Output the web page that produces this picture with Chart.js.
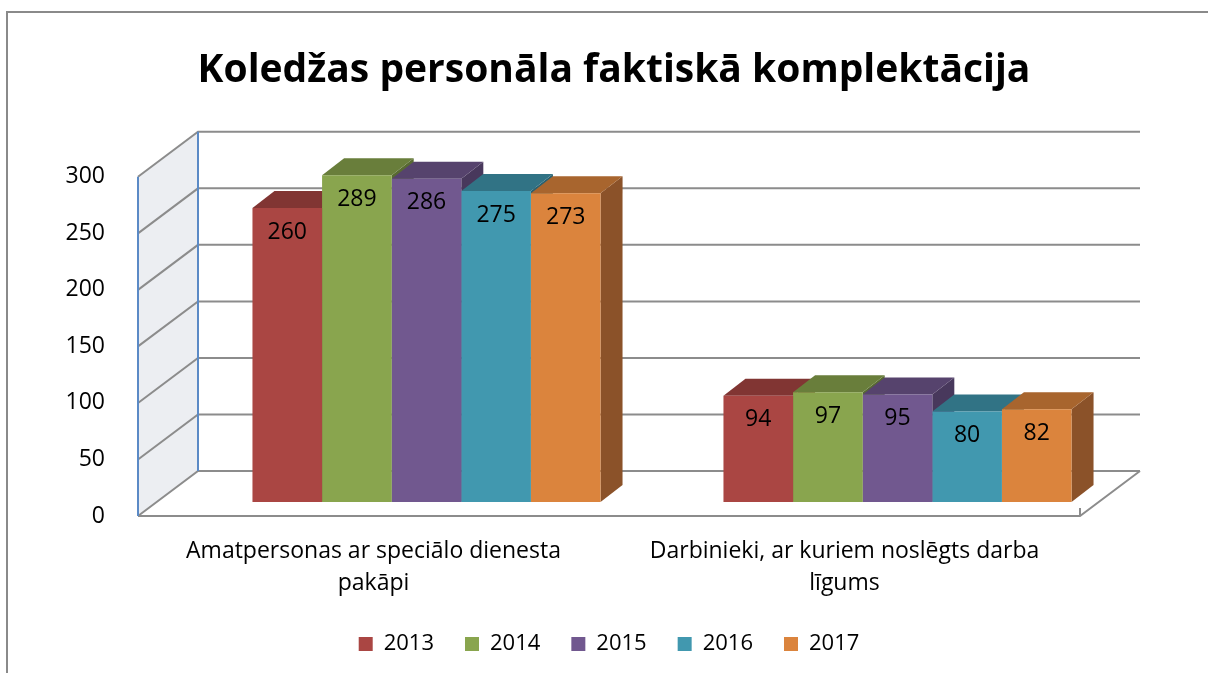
<!DOCTYPE html>
<html>
<head>
<meta charset="utf-8">
<script src="https://cdn.jsdelivr.net/npm/chart.js@4"></script>
<style>
  html, body { margin: 0; padding: 0; background: #fff; overflow: hidden; }
  #frame { position: absolute; left: 6px; top: 11px; width: 1300px; height: 800px;
           border-left: 2px solid #8a8a8a; border-top: 2px solid #8a8a8a; }
  #c { position: absolute; left: 0; top: 0; }
</style>
</head>
<body>
<div id="frame"></div>
<canvas id="c" width="1228" height="673"></canvas>
<script>
const categories = [['Amatpersonas ar speciālo dienesta', 'pakāpi'], ['Darbinieki, ar kuriem noslēgts darba', 'līgums']];
const years = ['2013', '2014', '2015', '2016', '2017'];
const v2013 = [260, 94];
const v2014 = [289, 97];
const v2015 = [286, 95];
const v2016 = [275, 80];
const v2017 = [273, 82];
const yTicks = [0, 50, 100, 150, 200, 250, 300];

const seriesValues = [v2013, v2014, v2015, v2016, v2017];
const frontColors = ['#AA4643', '#89A54E', '#71588F', '#4198AF', '#DB843D'];
const topColors   = ['#813533', '#697E3B', '#56436D', '#317385', '#A8652E'];
const sideColors  = ['#6E2C2B', '#586A32', '#48385C', '#296170', '#8B5229'];

const FONT = '"Open Sans", "Noto Sans", sans-serif';
const WALL_DX = 60, WALL_DY = -45;
const BAR_DX = 53, BAR_DY = -14;
const DEPTH_DX = 22, DEPTH_DY = -17;

const threeD = {
  id: 'threeD',
  beforeDatasetsDraw(chart) {
    const ctx = chart.ctx, ys = chart.scales.y, ca = chart.chartArea;
    const L = ca.left, R = ca.right;
    const yMin = ys.getPixelForValue(yTicks[0]);
    const yMax = ys.getPixelForValue(yTicks[yTicks.length - 1]);
    ctx.save();
    ctx.fillStyle = '#ECEEF2';
    ctx.beginPath();
    ctx.moveTo(L, yMin); ctx.lineTo(L + WALL_DX, yMin + WALL_DY);
    ctx.lineTo(L + WALL_DX, yMax + WALL_DY); ctx.lineTo(L, yMax);
    ctx.closePath(); ctx.fill();
    ctx.strokeStyle = '#8C8C8C'; ctx.lineWidth = 2;
    yTicks.forEach(v => {
      const y = ys.getPixelForValue(v);
      ctx.beginPath();
      ctx.moveTo(L, y); ctx.lineTo(L + WALL_DX, y + WALL_DY);
      ctx.lineTo(R + WALL_DX, y + WALL_DY);
      ctx.stroke();
    });
    ctx.beginPath();
    ctx.moveTo(L, yMin); ctx.lineTo(R, yMin); ctx.lineTo(R + WALL_DX, yMin + WALL_DY);
    ctx.moveTo(R, yMin); ctx.lineTo(R, yMin - 8);
    ctx.stroke();
    ctx.strokeStyle = '#5B8AC6'; ctx.lineWidth = 2;
    ctx.beginPath();
    ctx.moveTo(L, yMin); ctx.lineTo(L, yMax);
    ctx.moveTo(L + WALL_DX, yMin + WALL_DY); ctx.lineTo(L + WALL_DX, yMax + WALL_DY);
    ctx.stroke();
    ctx.restore();

    ctx.save();
    ctx.translate(BAR_DX, BAR_DY);
    const n = chart.data.labels.length;
    for (let i = 0; i < n; i++) {
      for (let d = 0; d < chart.data.datasets.length; d++) {
        const el = chart.getDatasetMeta(d).data[i];
        const l = el.x - el.width / 2, r = el.x + el.width / 2, t = el.y, b = el.base;
        ctx.fillStyle = sideColors[d];
        ctx.beginPath();
        ctx.moveTo(r, t); ctx.lineTo(r + DEPTH_DX, t + DEPTH_DY);
        ctx.lineTo(r + DEPTH_DX, b + DEPTH_DY); ctx.lineTo(r, b);
        ctx.closePath(); ctx.fill();
        ctx.fillStyle = topColors[d];
        ctx.beginPath();
        ctx.moveTo(l, t); ctx.lineTo(l + DEPTH_DX, t + DEPTH_DY);
        ctx.lineTo(r + DEPTH_DX, t + DEPTH_DY); ctx.lineTo(r, t);
        ctx.closePath(); ctx.fill();
      }
    }
  },
  afterDatasetsDraw(chart) {
    const ctx = chart.ctx;
    ctx.fillStyle = '#000';
    ctx.font = '23px ' + FONT;
    ctx.textAlign = 'center';
    ctx.textBaseline = 'middle';
    chart.data.datasets.forEach((ds, d) => {
      chart.getDatasetMeta(d).data.forEach((el, i) => {
        ctx.fillText(String(ds.data[i]), el.x, el.y + 24);
      });
    });
    ctx.restore();
  }
};

new Chart(document.getElementById('c'), {
  type: 'bar',
  data: {
    labels: categories,
    datasets: years.map((y, d) => ({
      label: y,
      data: seriesValues[d],
      backgroundColor: frontColors[d],
      borderWidth: 0,
      clip: false,
      barPercentage: 1.0,
      categoryPercentage: 0.739
    }))
  },
  options: {
    responsive: false,
    devicePixelRatio: 1,
    animation: false,
    layout: { padding: { left: 0, right: 0, top: 0, bottom: 8 } },
    plugins: {
      title: {
        display: true,
        text: 'Koledžas personāla faktiskā komplektācija',
        color: '#000',
        font: { family: FONT, size: 39, weight: 'bold' },
        padding: { top: 47, bottom: 83 }
      },
      legend: {
        position: 'bottom',
        fullSize: false,
        labels: {
          boxWidth: 14, boxHeight: 14, padding: 31, color: '#000',
          font: { family: FONT, size: 22 }
        }
      },
      tooltip: { enabled: false }
    },
    scales: {
      x: {
        grid: { display: false },
        border: { display: false },
        ticks: { color: '#000', font: { family: FONT, size: 23, lineHeight: 1.38 }, padding: 12, maxRotation: 0, autoSkip: false },
        afterFit(s) { s.height = 86; }
      },
      y: {
        min: 0, max: 300,
        grid: { display: false },
        border: { display: false },
        ticks: { stepSize: 50, color: '#000', font: { family: FONT, size: 23 }, padding: 25, labelOffset: 0 },
        afterBuildTicks(s) { s.ticks = yTicks.map(v => ({ value: v })); },
        afterFit(s) { s.width = 138; }
      },
      y2: {
        position: 'right',
        display: true,
        grid: { display: false },
        border: { display: false },
        ticks: { display: false },
        afterFit(s) { s.width = 148; }
      }
    }
  },
  plugins: [threeD]
});
</script>
</body>
</html>
